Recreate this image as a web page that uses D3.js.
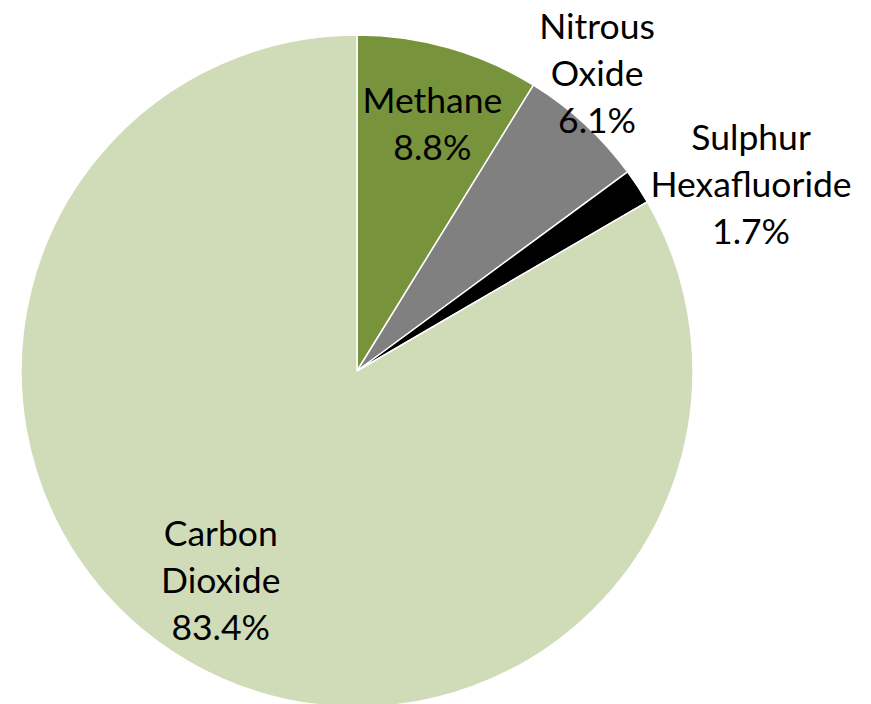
<!DOCTYPE html>
<html>
<head>
<meta charset="utf-8">
<script src="https://cdn.jsdelivr.net/npm/d3@7"></script>
<style>
  html, body { margin: 0; padding: 0; background: #fff; }
  svg { display: block; }
  text { font-family: Lato, "Open Sans", sans-serif; fill: #000; }
</style>
</head>
<body>
<svg id="chart" width="871" height="704"></svg>
<script>
// Greenhouse gas shares (%)
const gases = ["Methane", "Nitrous Oxide", "Sulphur Hexafluoride", "Carbon Dioxide"];
const shares = [8.8, 6.1, 1.7, 83.4];
const colors = ["#77933C", "#808080", "#000000", "#D0DCB8"];
// Label text lines for each slice (name lines followed by the value)
const labelLines = [["Methane"], ["Nitrous", "Oxide"], ["Sulphur", "Hexafluoride"], ["Carbon", "Dioxide"]];

// Label placement: radius and angular nudge from each slice's mid-angle
const labelRadius = [258, 382, 436, 250];
const labelNudge = [0.02, -0.065, 0.139, 0.055];

const width = 871, height = 704;
const cx = 357, cy = 371, r = 336;
const fontSize = 35.5, lineGap = 47;

const svg = d3.select("#chart");
const g = svg.append("g").attr("transform", `translate(${cx},${cy})`);

const data = gases.map((name, i) => ({ name, value: shares[i], i }));

const pie = d3.pie().value(d => d.value).sort(null);
const arcs = pie(data);
const arc = d3.arc().innerRadius(0).outerRadius(r);

g.selectAll("path.slice")
  .data(arcs)
  .join("path")
  .attr("class", "slice")
  .attr("d", arc)
  .attr("fill", d => colors[d.data.i])
  .attr("stroke", "#ffffff")
  .attr("stroke-width", 1.5)
  .attr("stroke-linejoin", "round");

const fmt = v => v.toFixed(1) + "%";

arcs.forEach(d => {
  const i = d.data.i;
  const a = (d.startAngle + d.endAngle) / 2 + labelNudge[i];
  const lr = labelRadius[i];
  const x = lr * Math.sin(a);
  const y = -lr * Math.cos(a);
  const lines = labelLines[i].concat([fmt(d.data.value)]);
  const n = lines.length;
  const t = g.append("text")
    .attr("text-anchor", "middle")
    .attr("font-size", fontSize);
  lines.forEach((line, k) => {
    t.append("tspan")
      .attr("x", x)
      .attr("y", y + (k - (n - 1) / 2) * lineGap)
      .attr("dy", "0.35em")
      .text(line);
  });
});
</script>
</body>
</html>
